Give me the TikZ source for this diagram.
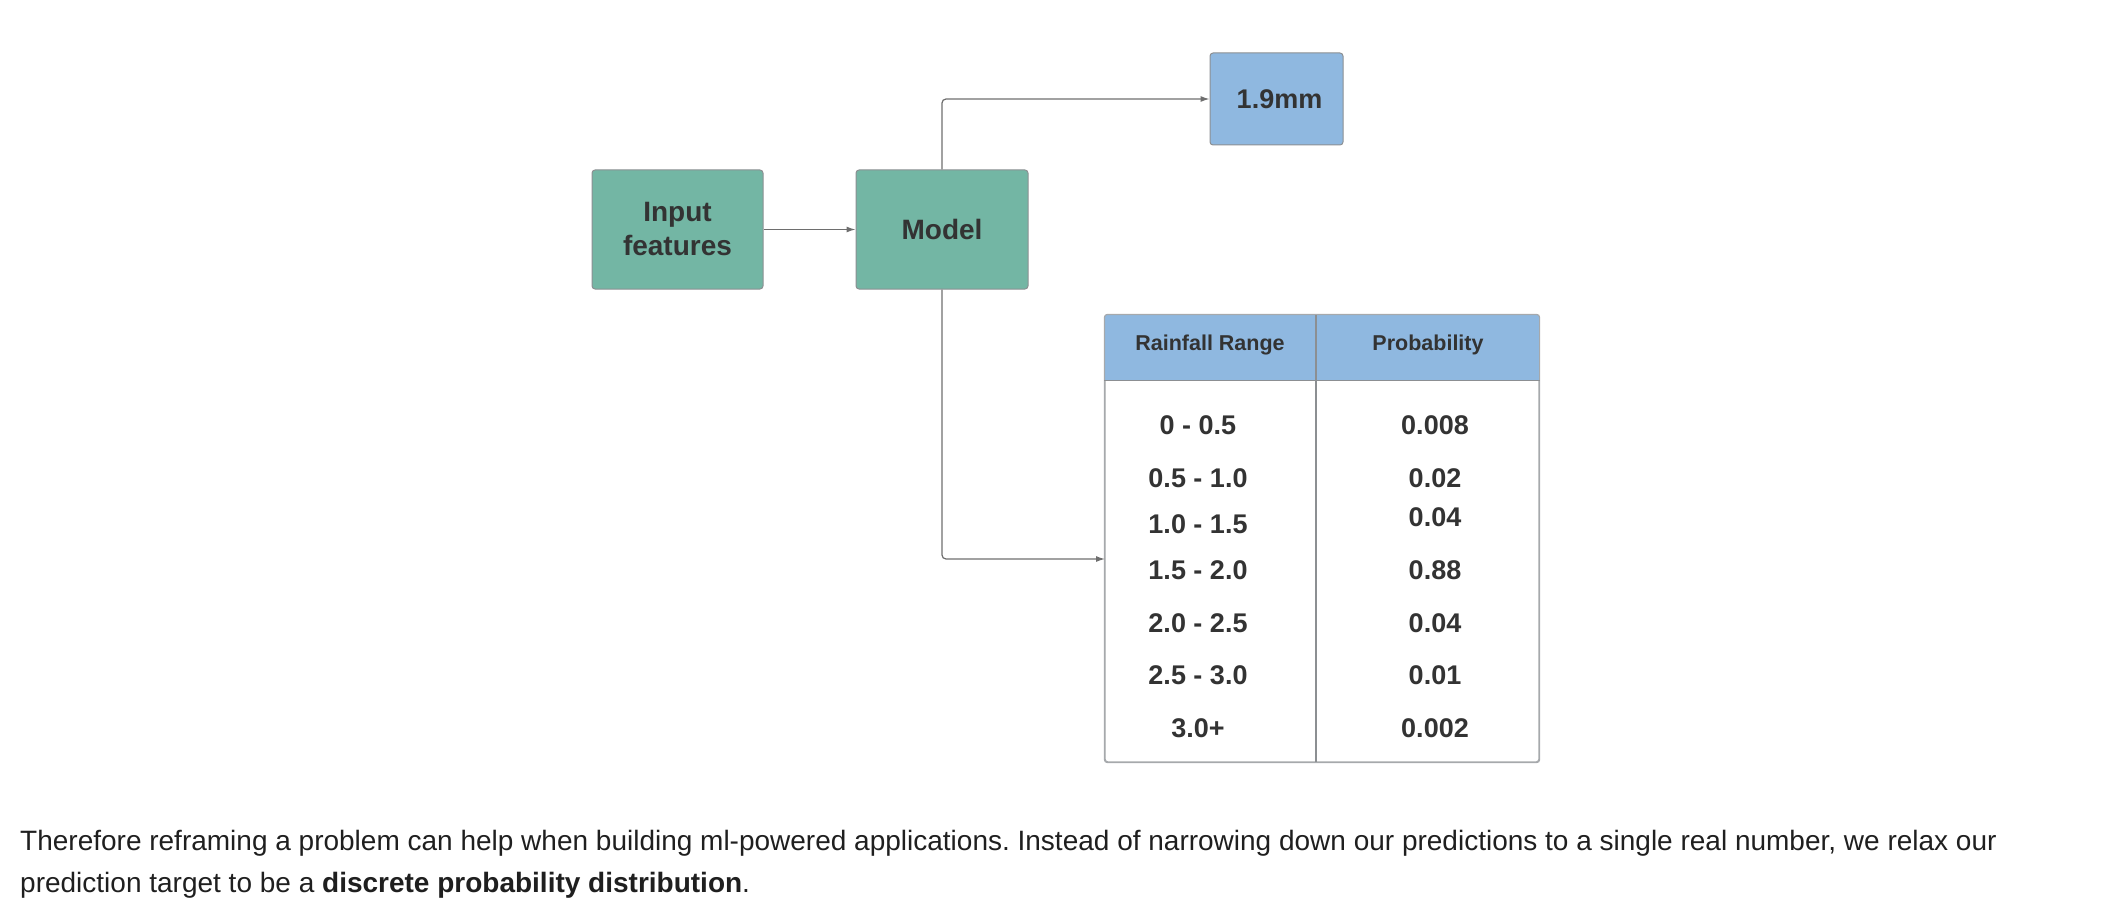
\documentclass[tikz,border=0pt]{standalone}
\usepackage{fontspec}
\setmainfont{Liberation Sans}
\usetikzlibrary{arrows.meta,positioning,calc}
\frenchspacing
\definecolor{Ink}{HTML}{333333}
\definecolor{Body}{HTML}{1F1F1F}
\definecolor{Wire}{HTML}{6E6E6E}
\definecolor{Frame}{HTML}{8C8F92}
\definecolor{Grid}{HTML}{A6A9AC}
\definecolor{Teal}{HTML}{73B6A4}
\definecolor{Sky}{HTML}{8FB8E0}
\tikzset{
  stage/.style={draw=Frame,fill=Teal,line width=1pt,rounded corners=3pt,minimum width=171pt,minimum height=119pt,align=center,text=Ink,font=\fontsize{28}{34}\selectfont\bfseries},
  result/.style={draw=Frame,fill=Sky,line width=1pt,rounded corners=3pt,minimum width=133pt,minimum height=92pt,text=Ink,font=\fontsize{27}{32}\selectfont\bfseries},
  sheet/.style={draw=Grid,fill=white,line width=1.2pt,rounded corners=3pt,minimum width=434pt,minimum height=447pt,inner sep=0pt},
  colhead/.style={text=Ink,font=\fontsize{21.5}{26}\selectfont\bfseries},
  cell/.style={text=Ink,font=\fontsize{27}{32}\selectfont\bfseries},
  caption/.style={anchor=base west,inner sep=0pt,text=Body,font=\fontsize{28}{34}\selectfont},
  flow/.style={-{Latex[length=9pt,width=6pt]},draw=Wire,line width=1.2pt,rounded corners=4pt}
}
\begin{document}
\begin{tikzpicture}[x=1pt,y=-1pt,node distance=92pt]
      \useasboundingbox (0,0) rectangle (2118,920);
      \node[stage] (input) at (677.5,229.5) {Input\\features};
      \node[stage,minimum width=172pt,right=of input] (model) {Model};
      \node[result] (point) at (1276.5,99) {\hspace{6pt}1.9mm};
      \node[sheet] (dist) at (1322,538.5) {};
      % header band and rules of the table
      \begin{scope}
        \clip[rounded corners=3pt] (dist.south west) rectangle (dist.north east);
        \fill[Sky] (dist.north west) rectangle ($(dist.north east)+(0,66)$);
      \end{scope}
      \draw[Grid,line width=1.2pt,rounded corners=3pt] (dist.south west) rectangle (dist.north east);
      \draw[Frame,line width=1.2pt] ($(dist.north west)+(0,66)$) -- ($(dist.north east)+(0,66)$);
      \draw[Frame,line width=1.2pt] (1316,315) -- (1316,762);
      \node[colhead] (hrange) at (1210,345) {Rainfall Range};
      \node[colhead] (hprob) at (1428,345) {Probability};
      \foreach \lo/\ly/\pr/\py [count=\i] in {0 - 0.5/425/0.008/425, 0.5 - 1.0/478/0.02/478, 1.0 - 1.5/524/0.04/517, 1.5 - 2.0/570/0.88/570, 2.0 - 2.5/623/0.04/623, 2.5 - 3.0/675/0.01/675, 3.0+/728/0.002/728}{
        \node[cell] (range\i) at (1198,\ly) {\lo};
        \node[cell] (prob\i) at (1435,\py) {\pr};
      }
      \coordinate (distin) at (1105,559);
      \draw[flow] (input) -- (model);
      \draw[flow] (model.north) |- (point.west);
      \draw[flow] (model.south) |- (distin);
      \node[caption] (line1) at (20,850) {Therefore reframing a problem can help when building ml-powered applications. Instead of narrowing down our predictions to a single real number, we relax our};
      \node[caption] (line2) at (20,892) {prediction target to be a \textbf{discrete probability distribution}.};
    \end{tikzpicture}
\end{document}
